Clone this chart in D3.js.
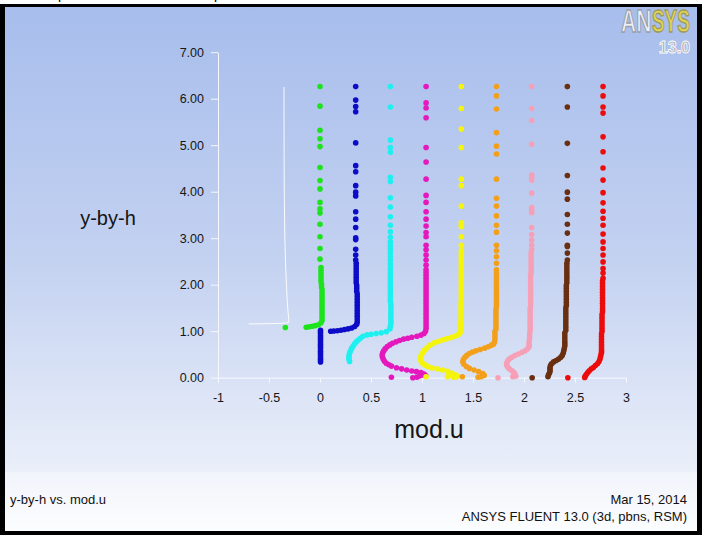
<!DOCTYPE html>
<html lang="en">

<head>
	<meta charset="UTF-8" />
	<title>y-by-h vs. mod.u</title>
	<script src="https://cdn.jsdelivr.net/npm/d3@7"></script>
	<style>
		body { margin: 0; }
		text { font-family: Arial, "Liberation Sans", sans-serif; }
	</style>
</head>

<body>
	<svg id="vis" width="702" height="535"></svg>
</body>

</html>
<script>
	// Ticks
	const xTickValues = [-1, -0.5, 0, 0.5, 1, 1.5, 2, 2.5, 3];
	const xTickLabels = ["-1", "-0.5", "0", "0.5", "1", "1.5", "2", "2.5", "3"];
	const xMinorTicks = [-0.75, -0.25, 0.25, 0.75, 1.25, 1.75, 2.25, 2.75];
	const yTickValues = [0, 1, 2, 3, 4, 5, 6, 7];
	const yTickLabels = ["0.00", "1.00", "2.00", "3.00", "4.00", "5.00", "6.00", "7.00"];
	const yMinorTicks = [0.25, 0.5, 0.75, 1.25, 1.5, 1.75, 2.25, 2.5, 2.75, 3.25, 3.5, 3.75,
		4.25, 4.5, 4.75, 5.25, 5.5, 5.75, 6.25, 6.5, 6.75];

	// Profiles [mod.u, y-by-h]
	const whiteLine = [[-0.353, 6.25], [-0.352, 4.8], [-0.35, 3.9], [-0.345, 3.0], [-0.335, 2.3],
	[-0.325, 1.8], [-0.315, 1.45], [-0.305, 1.24], [-0.31, 1.19], [-0.33, 1.175], [-0.45, 1.165],
	[-0.58, 1.16], [-0.70, 1.155]];

	const green = [[0, 6.26], [0, 5.84], [0, 5.32], [0, 5.14], [0, 4.97], [0, 4.52], [0, 4.24], [0, 4.06],
	[0, 3.77], [0, 3.63], [0, 3.54], [0, 3.30], [0, 3.03], [0, 2.78], [0, 2.55], [0.01, 2.37],
	[0.01, 2.31], [0.01, 2.25], [0.01, 2.19], [0.01, 2.13], [0.01, 2.07], [0.015, 2.01], [0.015, 1.95],
	[0.02, 1.89], [0.02, 1.83], [0.02, 1.77], [0.02, 1.71], [0.02, 1.65], [0.02, 1.59], [0.02, 1.53],
	[0.02, 1.47], [0.02, 1.41], [0.02, 1.35], [0.02, 1.29], [0.02, 1.23],
	[0.01, 1.18], [-0.015, 1.14], [-0.045, 1.12], [-0.075, 1.105], [-0.105, 1.095], [-0.135, 1.085],
	[-0.34, 1.08]];

	const blue = [[0.35, 6.26], [0.35, 5.97], [0.35, 5.83], [0.35, 5.72], [0.35, 5.05], [0.35, 4.56],
	[0.35, 4.43], [0.35, 4.13], [0.35, 3.99], [0.35, 3.91], [0.35, 3.57], [0.35, 3.41], [0.35, 3.23],
	[0.35, 3.01], [0.35, 2.97], [0.35, 2.76], [0.35, 2.64], [0.35, 2.53], [0.355, 2.46],
	[0.355, 2.40], [0.355, 2.34], [0.355, 2.28], [0.355, 2.22], [0.355, 2.16], [0.355, 2.10], [0.355, 2.04],
	[0.36, 1.98], [0.36, 1.92], [0.36, 1.86], [0.365, 1.80], [0.365, 1.74], [0.365, 1.68], [0.365, 1.62],
	[0.365, 1.56], [0.365, 1.50], [0.365, 1.44], [0.365, 1.38], [0.365, 1.32], [0.365, 1.26], [0.365, 1.20],
	[0.36, 1.15], [0.34, 1.10], [0.31, 1.07], [0.275, 1.05], [0.24, 1.035], [0.205, 1.02], [0.17, 1.01],
	[0.135, 1.005], [0.105, 1.0],
	[0.005, 1.02], [0.005, 0.97], [0.005, 0.92], [0.005, 0.87], [0.005, 0.82], [0.005, 0.77], [0.005, 0.72],
	[0.005, 0.67], [0.005, 0.62], [0.005, 0.57], [0.005, 0.52], [0.005, 0.47], [0.005, 0.42], [0.005, 0.38],
	[0.005, 0.34]];

	const cyan = [[0.69, 6.26], [0.69, 5.82], [0.69, 5.11], [0.69, 4.95], [0.69, 4.85], [0.69, 4.31],
	[0.69, 4.22], [0.69, 3.87], [0.69, 3.67], [0.69, 3.46], [0.69, 3.28], [0.69, 3.14], [0.69, 3.02],
	[0.69, 2.92], [0.69, 2.84], [0.69, 2.76], [0.69, 2.68], [0.69, 2.60], [0.69, 2.52], [0.69, 2.44],
	[0.69, 2.36], [0.69, 2.30], [0.69, 2.24], [0.69, 2.18], [0.69, 2.12], [0.69, 2.06], [0.69, 2.00],
	[0.69, 1.94], [0.69, 1.88], [0.69, 1.82], [0.69, 1.76], [0.69, 1.70], [0.69, 1.64], [0.695, 1.58],
	[0.695, 1.52], [0.695, 1.46], [0.695, 1.40], [0.695, 1.34], [0.695, 1.28], [0.695, 1.22], [0.695, 1.16],
	[0.69, 1.10], [0.685, 1.05],
	[0.65, 0.99], [0.60, 0.965], [0.55, 0.95], [0.50, 0.935], [0.46, 0.92], [0.42, 0.89], [0.395, 0.85],
	[0.375, 0.81], [0.355, 0.77], [0.34, 0.73], [0.325, 0.68], [0.31, 0.63], [0.30, 0.58], [0.29, 0.53],
	[0.285, 0.48], [0.283, 0.43], [0.285, 0.39], [0.29, 0.35]];

	const magenta = [[1.04, 6.26], [1.04, 5.91], [1.04, 5.80], [1.04, 5.59], [1.04, 4.95], [1.04, 4.64],
	[1.04, 4.27], [1.04, 3.92], [1.04, 3.77], [1.04, 3.57], [1.04, 3.41], [1.04, 3.26], [1.04, 3.12],
	[1.04, 3.03], [1.04, 2.85], [1.04, 2.75], [1.04, 2.64], [1.04, 2.53], [1.04, 2.42], [1.04, 2.32],
	[1.04, 2.26], [1.04, 2.20], [1.04, 2.14], [1.04, 2.08], [1.04, 2.02], [1.04, 1.96], [1.04, 1.90],
	[1.04, 1.84], [1.04, 1.78], [1.04, 1.72], [1.04, 1.66], [1.04, 1.60], [1.04, 1.54], [1.04, 1.48],
	[1.04, 1.42], [1.04, 1.36], [1.04, 1.30], [1.04, 1.24], [1.04, 1.18], [1.04, 1.12], [1.04, 1.06],
	[1.035, 1.00], [1.02, 0.95],
	[0.99, 0.915], [0.95, 0.89], [0.90, 0.87], [0.86, 0.85], [0.82, 0.83], [0.78, 0.80], [0.745, 0.77],
	[0.71, 0.74], [0.685, 0.705], [0.66, 0.67], [0.64, 0.625], [0.625, 0.58], [0.615, 0.535], [0.61, 0.49],
	[0.612, 0.445], [0.62, 0.40], [0.632, 0.355], [0.65, 0.31], [0.675, 0.28], [0.70, 0.25],
	[0.75, 0.215], [0.80, 0.19], [0.85, 0.165], [0.90, 0.145], [0.945, 0.13], [0.99, 0.11], [1.02, 0.08],
	[1.035, 0.045],
	[0.70, 0.01], [0.91, 0.0], [0.95, 0.01], [0.98, 0.04], [1.0, 0.06]];

	const yellow = [[1.386, 6.26], [1.386, 5.79], [1.386, 5.35], [1.386, 4.95], [1.386, 4.27], [1.386, 4.13],
	[1.386, 3.69], [1.386, 3.33], [1.386, 3.28], [1.386, 3.25], [1.386, 3.03], [1.386, 2.85], [1.386, 2.73],
	[1.386, 2.68], [1.385, 2.62], [1.385, 2.56], [1.385, 2.50], [1.385, 2.44], [1.385, 2.38], [1.385, 2.32],
	[1.385, 2.26], [1.385, 2.20], [1.385, 2.14], [1.385, 2.08], [1.385, 2.02], [1.385, 1.96], [1.385, 1.90],
	[1.385, 1.84], [1.385, 1.78], [1.385, 1.72], [1.385, 1.66], [1.383, 1.60], [1.383, 1.54], [1.383, 1.48],
	[1.383, 1.42], [1.383, 1.36], [1.383, 1.30], [1.383, 1.24], [1.38, 1.18], [1.38, 1.12], [1.38, 1.06],
	[1.38, 1.00],
	[1.37, 0.95], [1.35, 0.92], [1.32, 0.89], [1.28, 0.86], [1.24, 0.835], [1.20, 0.81], [1.16, 0.78],
	[1.12, 0.75], [1.08, 0.70], [1.05, 0.65], [1.025, 0.59], [1.005, 0.53], [0.99, 0.47], [0.985, 0.41],
	[0.99, 0.36], [1.005, 0.31], [1.03, 0.27], [1.06, 0.24], [1.10, 0.21],
	[1.15, 0.19], [1.20, 0.165], [1.25, 0.135], [1.29, 0.10], [1.32, 0.07], [1.34, 0.04],
	[1.04, 0.02], [1.25, 0.02], [1.28, 0.05], [1.31, 0.01], [1.335, 0.015]];

	const orange = [[1.73, 6.26], [1.73, 6.06], [1.73, 5.78], [1.73, 5.27], [1.73, 4.98], [1.73, 4.81],
	[1.73, 4.27], [1.73, 3.86], [1.73, 3.69], [1.73, 3.48], [1.73, 3.28], [1.73, 3.13], [1.73, 2.85],
	[1.73, 2.73], [1.73, 2.60], [1.73, 2.46], [1.73, 2.32],
	[1.73, 2.25], [1.73, 2.19], [1.73, 2.13], [1.73, 2.07], [1.73, 2.01], [1.73, 1.95], [1.73, 1.89],
	[1.73, 1.83], [1.73, 1.77], [1.73, 1.71], [1.73, 1.65], [1.73, 1.59], [1.73, 1.53], [1.725, 1.47],
	[1.725, 1.41], [1.725, 1.35], [1.725, 1.29], [1.725, 1.23], [1.725, 1.17], [1.725, 1.11], [1.725, 1.05],
	[1.715, 0.99], [1.715, 0.93], [1.715, 0.87], [1.715, 0.81], [1.71, 0.76],
	[1.70, 0.72], [1.68, 0.70], [1.65, 0.665], [1.615, 0.635], [1.57, 0.605], [1.53, 0.58], [1.495, 0.55],
	[1.465, 0.52], [1.44, 0.48], [1.42, 0.44], [1.405, 0.39], [1.40, 0.34], [1.41, 0.29], [1.435, 0.24],
	[1.465, 0.20],
	[1.51, 0.165], [1.555, 0.13], [1.595, 0.09], [1.61, 0.05], [1.58, 0.02], [1.55, 0.01],
	[1.395, 0.02]];

	const pink = [[2.075, 6.26], [2.075, 5.79], [2.075, 5.53], [2.075, 5.02], [2.075, 4.36], [2.075, 4.31],
	[2.075, 4.25], [2.075, 3.97], [2.075, 3.66], [2.075, 3.61], [2.075, 3.55], [2.075, 3.23], [2.075, 3.08],
	[2.075, 2.96], [2.075, 2.85], [2.075, 2.75],
	[2.07, 2.69], [2.07, 2.63], [2.07, 2.57], [2.07, 2.51], [2.07, 2.45], [2.07, 2.39], [2.07, 2.33],
	[2.07, 2.27], [2.065, 2.21], [2.065, 2.15], [2.065, 2.09], [2.065, 2.03], [2.065, 1.97], [2.065, 1.91],
	[2.065, 1.85], [2.065, 1.79], [2.065, 1.73], [2.065, 1.67], [2.065, 1.61], [2.065, 1.55], [2.06, 1.49],
	[2.06, 1.43], [2.06, 1.37], [2.06, 1.31], [2.06, 1.25], [2.06, 1.19], [2.06, 1.13], [2.06, 1.07],
	[2.06, 1.01], [2.055, 0.95], [2.055, 0.89], [2.055, 0.83], [2.05, 0.77], [2.05, 0.72], [2.05, 0.67],
	[2.035, 0.62], [2.01, 0.58], [1.98, 0.545], [1.945, 0.51], [1.91, 0.475], [1.88, 0.44], [1.855, 0.40],
	[1.84, 0.36], [1.83, 0.31], [1.83, 0.27], [1.84, 0.23], [1.855, 0.195], [1.875, 0.16], [1.895, 0.125],
	[1.91, 0.09], [1.905, 0.05], [1.89, 0.02], [1.92, 0.03],
	[1.745, 0.0]];

	const brown = [[2.425, 6.26], [2.425, 5.82], [2.425, 5.04], [2.425, 4.35], [2.425, 3.99], [2.425, 3.84],
	[2.425, 3.51], [2.425, 3.30], [2.425, 3.11], [2.425, 2.85], [2.425, 2.82], [2.425, 2.68], [2.425, 2.53],
	[2.42, 2.46], [2.42, 2.40], [2.42, 2.34], [2.42, 2.28], [2.42, 2.22], [2.42, 2.16], [2.42, 2.10],
	[2.42, 2.04], [2.415, 1.98], [2.415, 1.92], [2.415, 1.86], [2.415, 1.80], [2.415, 1.74], [2.415, 1.68],
	[2.415, 1.62], [2.415, 1.56], [2.41, 1.50], [2.41, 1.44], [2.41, 1.38], [2.41, 1.32], [2.41, 1.26],
	[2.41, 1.20], [2.41, 1.14], [2.41, 1.08], [2.41, 1.02], [2.40, 0.96], [2.40, 0.90], [2.40, 0.84],
	[2.40, 0.78], [2.40, 0.73], [2.40, 0.68],
	[2.395, 0.63], [2.39, 0.58], [2.385, 0.53], [2.375, 0.48], [2.36, 0.44], [2.34, 0.40], [2.315, 0.37],
	[2.29, 0.34], [2.27, 0.30], [2.26, 0.26], [2.255, 0.22], [2.255, 0.18], [2.255, 0.14], [2.25, 0.10],
	[2.24, 0.06], [2.235, 0.02],
	[2.08, 0.0]];

	const red = [[2.775, 6.26], [2.775, 6.06], [2.775, 5.82], [2.775, 5.69], [2.775, 5.18], [2.775, 4.86],
	[2.775, 4.51], [2.775, 4.25], [2.775, 3.98], [2.775, 3.76], [2.775, 3.58], [2.775, 3.43], [2.775, 3.28],
	[2.775, 3.09], [2.775, 2.92], [2.775, 2.78], [2.775, 2.64], [2.775, 2.49], [2.775, 2.35], [2.775, 2.25],
	[2.775, 2.14],
	[2.77, 2.08], [2.77, 2.02], [2.77, 1.96], [2.77, 1.90], [2.77, 1.84], [2.77, 1.78], [2.77, 1.72],
	[2.77, 1.66], [2.77, 1.60], [2.77, 1.54], [2.77, 1.48], [2.77, 1.42], [2.765, 1.36], [2.765, 1.30],
	[2.765, 1.24], [2.765, 1.18], [2.765, 1.12], [2.765, 1.06], [2.765, 1.00], [2.76, 0.94], [2.76, 0.88],
	[2.76, 0.82], [2.76, 0.76], [2.76, 0.70], [2.76, 0.64], [2.76, 0.59], [2.76, 0.55],
	[2.755, 0.50], [2.75, 0.45], [2.745, 0.40], [2.735, 0.35], [2.72, 0.30], [2.70, 0.26], [2.68, 0.22],
	[2.66, 0.19], [2.64, 0.15], [2.625, 0.11], [2.61, 0.07], [2.60, 0.03], [2.595, 0.005],
	[2.43, 0.0]];

	const dotSeries = [
		{ points: green, color: "#1de31d" },
		{ points: blue, color: "#0c0cc8" },
		{ points: cyan, color: "#1ef0f0" },
		{ points: magenta, color: "#e418bc" },
		{ points: yellow, color: "#f4f40c" },
		{ points: orange, color: "#f2a01c" },
		{ points: pink, color: "#f6a0b8" },
		{ points: brown, color: "#6a2e10" },
		{ points: red, color: "#ec0c0c" }
	];

	let svg = d3.select("#vis");

	// Fond
	let defs = svg.append("defs");
	let bg = defs.append("linearGradient").attr("id", "bg")
		.attr("x1", 0).attr("y1", 0).attr("x2", 0).attr("y2", 1);
	bg.append("stop").attr("offset", "0%").attr("stop-color", "#a7bdec");
	bg.append("stop").attr("offset", "55%").attr("stop-color", "#c4d2f1");
	bg.append("stop").attr("offset", "100%").attr("stop-color", "#eaeff9");
	let bgFoot = defs.append("linearGradient").attr("id", "bgFoot")
		.attr("x1", 0).attr("y1", 0).attr("x2", 0).attr("y2", 1);
	bgFoot.append("stop").attr("offset", "0%").attr("stop-color", "#f1f4fb");
	bgFoot.append("stop").attr("offset", "100%").attr("stop-color", "#fcfdfe");

	svg.append("rect").attr("width", 702).attr("height", 535).attr("fill", "#000");
	svg.append("rect").attr("width", 702).attr("height", 4).attr("fill", "#fff");
	svg.append("text").attr("x", 58).attr("y", -1).attr("font-size", 14).attr("font-family", "Liberation Serif").text("p");
	svg.append("text").attr("x", 214).attr("y", -1).attr("font-size", 14).attr("font-family", "Liberation Serif").text("p");
	svg.append("rect").attr("x", 5).attr("y", 7).attr("width", 692).attr("height", 465).attr("fill", "url(#bg)");
	svg.append("rect").attr("x", 5).attr("y", 472).attr("width", 692).attr("height", 59).attr("fill", "url(#bgFoot)");

	// Echelles
	let x = d3.scaleLinear().domain([-1, 3]).range([218, 626]);
	let y = d3.scaleLinear().domain([0, 7]).range([377.7, 52.2]);

	// Axes
	let axisColor = "#f6f8fd";
	let gx = svg.append("g").attr("transform", "translate(0,377.7)");
	gx.call(d3.axisBottom(x).tickValues(xMinorTicks).tickSize(3).tickFormat(""));
	gx.call(d3.axisBottom(x).tickValues(xTickValues).tickFormat((d, i) => xTickLabels[i])
		.tickSize(5).tickSizeOuter(0).tickPadding(10));

	let gy = svg.append("g").attr("transform", "translate(218,0)");
	gy.call(d3.axisLeft(y).tickValues(yMinorTicks).tickSize(3.5).tickFormat(""));
	gy.call(d3.axisLeft(y).tickValues(yTickValues).tickFormat((d, i) => yTickLabels[i])
		.tickSize(7).tickSizeOuter(0).tickPadding(7));

	svg.selectAll(".domain").attr("stroke", axisColor);
	svg.selectAll(".tick line").attr("stroke", axisColor);
	svg.selectAll(".tick text").attr("fill", "#151515").attr("font-size", 12.5)
		.attr("font-family", "Arial, 'Liberation Sans', sans-serif");

	// Titres des axes
	svg.append("text").attr("x", 108).attr("y", 225).attr("text-anchor", "middle")
		.attr("font-size", 20).attr("fill", "#151515").text("y-by-h");
	svg.append("text").attr("x", 429).attr("y", 438).attr("text-anchor", "middle")
		.attr("font-size", 25).attr("fill", "#151515").text("mod.u");

	// Ligne blanche
	let line = d3.line().x(d => x(d[0])).y(d => y(d[1]));
	svg.append("path").attr("d", line(whiteLine)).attr("fill", "none")
		.attr("stroke", "#ffffff").attr("stroke-width", 1).attr("stroke-opacity", 0.9);

	// Points
	let gDots = svg.append("g");
	for (let s = 0; s < dotSeries.length; s++) {
		gDots.append("g").selectAll("circle")
			.data(dotSeries[s].points)
			.join("circle")
			.attr("cx", d => x(d[0]))
			.attr("cy", d => y(d[1]))
			.attr("r", 2.8)
			.attr("fill", dotSeries[s].color);
	}

	// Logo (lettres resserrées par une mise à l'échelle)
	let gAn = svg.append("g").attr("transform", "translate(621,32) scale(0.66,1)");
	gAn.append("text").attr("font-size", 32).attr("font-weight", "bold")
		.attr("fill", "#eef0f6").attr("stroke", "#9a9ea8").attr("stroke-width", 1.4).text("AN");
	let gSys = svg.append("g").attr("transform", "translate(652,32) scale(0.59,1)");
	gSys.append("text").attr("font-size", 32).attr("font-weight", "bold")
		.attr("fill", "#e2d650").attr("stroke", "#9c9860").attr("stroke-width", 1.4).text("SYS");
	svg.append("text").attr("x", 690).attr("y", 53).attr("text-anchor", "end")
		.attr("font-size", 16).attr("font-weight", "bold").attr("fill", "#a6a8ae")
		.attr("stroke", "#ffffff").attr("stroke-width", 0.8).text("13.0");

	// Pied de page
	svg.append("text").attr("x", 10).attr("y", 504).attr("font-size", 13).attr("fill", "#111").text("y-by-h vs. mod.u");
	svg.append("text").attr("x", 687).attr("y", 504).attr("text-anchor", "end").attr("font-size", 13)
		.attr("fill", "#111").text("Mar 15, 2014");
	svg.append("text").attr("x", 687).attr("y", 521).attr("text-anchor", "end").attr("font-size", 13)
		.attr("fill", "#111").text("ANSYS FLUENT 13.0 (3d, pbns, RSM)");
</script>
